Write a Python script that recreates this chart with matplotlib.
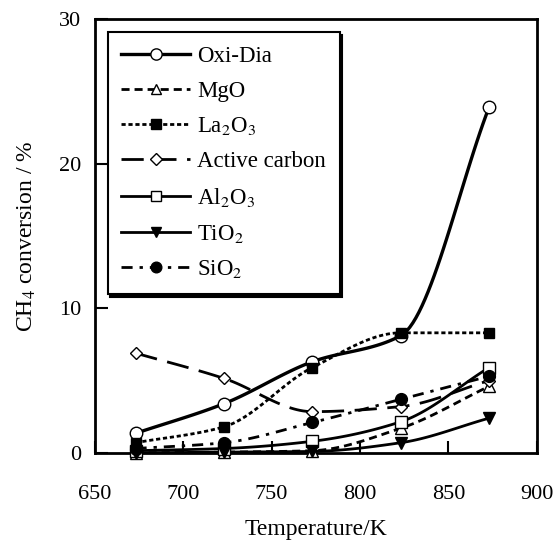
import numpy as np
import matplotlib.pyplot as plt
from matplotlib.ticker import MultipleLocator

plt.rcParams["font.family"] = ["Liberation Serif", "DejaVu Serif"]
plt.rcParams["mathtext.fontset"] = "stix"

# Data
temp_K = [673, 723, 773, 823, 873]
oxi_dia = [1.35, 3.4, 6.3, 8.1, 23.9]
mgo = [0.0, 0.05, 0.15, 1.7, 4.6]
la2o3 = [0.7, 1.8, 5.9, 8.3, 8.3]
active_carbon = [6.9, 5.15, 2.85, 3.2, 5.0]
al2o3 = [0.15, 0.3, 0.8, 2.15, 5.9]
tio2 = [0.0, 0.05, 0.1, 0.7, 2.4]
sio2 = [0.3, 0.7, 2.1, 3.7, 5.3]


def smooth(x, y, n=30):
    # monotone cubic (Fritsch-Carlson) curve through the points, no overshoot
    x = np.asarray(x, float)
    y = np.asarray(y, float)
    h = np.diff(x)
    d = np.diff(y) / h
    m = np.zeros_like(y)
    m[0], m[-1] = d[0], d[-1]
    for i in range(1, len(x) - 1):
        if d[i - 1] * d[i] > 0:
            w1 = 2 * h[i] + h[i - 1]
            w2 = h[i] + 2 * h[i - 1]
            m[i] = (w1 + w2) / (w1 / d[i - 1] + w2 / d[i])
    xs, ys = [x[0]], [y[0]]
    for i in range(len(x) - 1):
        t = np.linspace(0, 1, n)[1:]
        h00 = 2 * t ** 3 - 3 * t ** 2 + 1
        h10 = t ** 3 - 2 * t ** 2 + t
        h01 = -2 * t ** 3 + 3 * t ** 2
        h11 = t ** 3 - t ** 2
        xs.extend(x[i] + t * h[i])
        ys.extend(h00 * y[i] + h10 * h[i] * m[i] + h01 * y[i + 1] + h11 * h[i] * m[i + 1])
    return np.array(xs), np.array(ys)


series = [
    ("Oxi-Dia", oxi_dia, "-", "o", "white", 9, 2.4),
    ("MgO", mgo, (0, (2.9, 1.8)), "^", "white", 8, 2.0),
    ("La$_2$O$_3$", la2o3, (0, (1.5, 1.0)), "s", "black", 7.5, 2.0),
    ("Active carbon", active_carbon, (0, (8, 3.8)), "D", "white", 6.5, 2.0),
    ("Al$_2$O$_3$", al2o3, "-", "s", "white", 8, 2.0),
    ("TiO$_2$", tio2, "-", "v", "black", 8, 2.0),
    ("SiO$_2$", sio2, (0, (4, 2.5, 1.2, 2.5)), "o", "black", 8.5, 2.0),
]

fig = plt.figure(figsize=(5.58, 5.43), dpi=100)
ax = fig.add_axes([0.170, 0.166, 0.792, 0.799])

handles = []
for label, vals, ls, mk, mfc, ms, lw in series:
    sx, sy = smooth(temp_K, vals)
    ax.plot(sx, sy, color="black", linestyle=ls, linewidth=lw, zorder=2)
    ax.plot(temp_K, vals, linestyle="none", marker=mk, markersize=ms,
            markerfacecolor=mfc, markeredgecolor="black", markeredgewidth=1.0,
            zorder=3, clip_on=False)
    h, = ax.plot([], [], color="black", linestyle=ls, linewidth=lw, marker=mk,
                 markersize=ms * 0.9, markerfacecolor=mfc, markeredgecolor="black",
                 markeredgewidth=1.0, label=label)
    handles.append(h)

ax.set_xlim(650, 900)
ax.set_ylim(0, 30)
ax.xaxis.set_major_locator(MultipleLocator(50))
ax.yaxis.set_major_locator(MultipleLocator(10))
ax.tick_params(direction="in", length=9, width=1.5, labelsize=16)
ax.tick_params(axis="x", pad=23)
ax.tick_params(axis="y", pad=10)
for s in ax.spines.values():
    s.set_linewidth(2.0)

ax.set_xlabel("Temperature/K", fontsize=17, labelpad=11)
ax.set_ylabel("CH$_4$ conversion / %", fontsize=17, labelpad=15)

leg = ax.legend(handles=handles, loc="upper left", bbox_to_anchor=(0.029, 0.970),
                borderaxespad=0, fontsize=16.5, handlelength=3.0, handletextpad=0.3,
                labelspacing=0.6, borderpad=0.6, fancybox=False,
                shadow={"facecolor": "black", "edgecolor": "black", "alpha": 1.0})
leg.get_frame().set_edgecolor("black")
leg.get_frame().set_linewidth(1.5)

fig.savefig("out.png", dpi=100)
